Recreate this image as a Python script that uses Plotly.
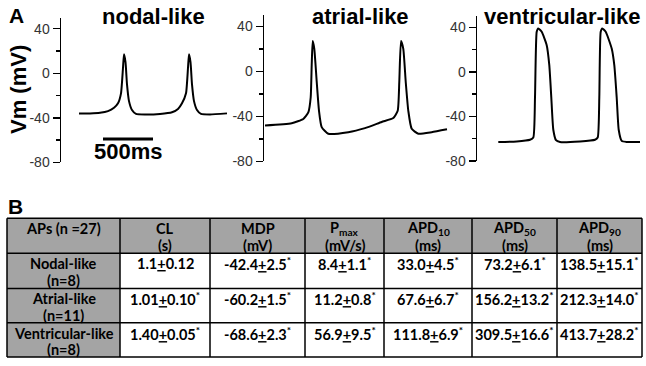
import plotly.graph_objects as go

W, H = 646, 366

# ---------------- Panel A data (time in ms, membrane potential in mV) ----------------
nodal_t = [180, 290, 390, 470, 530, 570, 600, 620, 630, 645, 660, 680, 710, 750, 840, 990,
           1110, 1170, 1210, 1250, 1270, 1280, 1295, 1310, 1330, 1360, 1400, 1490, 1660]
nodal_v = [-36, -36, -35.5, -34, -31, -27, -18, 5, 17, 10, -10, -25, -33, -36.5, -37, -36.5,
           -35, -32, -27, -18, 5, 17, 10, -10, -25, -33, -36.5, -37, -36]

atrial_t = [10, 277, 393, 443, 467, 477, 487, 503, 527, 550, 577, 643, 843, 1010, 1177, 1293,
            1337, 1353, 1370, 1393, 1417, 1443, 1477, 1543, 1677, 1830]
atrial_v = [-48, -46, -42.3, -36.5, -23, 5.5, 27, 20, -9, -35, -49.5, -55.4, -54, -50.4, -45,
            -41.5, -35, -9, 27, 20, -9, -35, -51, -55.4, -54, -51.5]

vent_t = [213, 397, 530, 563, 580, 597, 613, 647, 697, 723, 743, 763, 790, 830, 1030, 1180,
          1207, 1223, 1237, 1253, 1287, 1347, 1373, 1397, 1417, 1447, 1497, 1630]
vent_v = [-63, -62.5, -61, -59, -23, 36, 39, 36, 24, 6, -23, -52, -61.4, -63, -62.5, -61,
          -59, -23, 36, 39, 36, 21, 6, -23, -52, -62, -63, -63]

scalebar_t = [420, 920]        # 500 ms scale bar
scalebar_v = [-59, -59]
scalebar_label = "500ms"

panel_titles = ["nodal-like", "atrial-like", "ventricular-like"]
y_ticks = [40, 0, -40, -80]
y_ticktext = ["40", "0", "-40", "-80"]
y_minor = [20, -20, -60]

# ---------------- Panel B table data ----------------
row_labels = ["Nodal-like<br>(n=8)", "Atrial-like<br>(n=11)", "Ventricular-like<br>(n=8)"]
header_labels = ["APs (n =27)", "CL<br>(s)", "MDP<br>(mV)", "P<sub>max</sub><br>(mV/s)",
                 "APD<sub>10</sub><br>(ms)", "APD<sub>50</sub><br>(ms)", "APD<sub>90</sub><br>(ms)"]
cl_mean = ["1.1", "1.01", "1.40"];        cl_sem = ["0.12", "0.10", "0.05"];    cl_sig = [False, True, True]
mdp_mean = ["-42.4", "-60.2", "-68.6"];   mdp_sem = ["2.5", "1.5", "2.3"];      mdp_sig = [True, True, True]
pmax_mean = ["8.4", "11.2", "56.9"];      pmax_sem = ["1.1", "0.8", "9.5"];     pmax_sig = [True, True, True]
apd10_mean = ["33.0", "67.6", "111.8"];   apd10_sem = ["4.5", "6.7", "6.9"];    apd10_sig = [True, True, True]
apd50_mean = ["73.2", "156.2", "309.5"];  apd50_sem = ["6.1", "13.2", "16.6"];  apd50_sig = [True, True, True]
apd90_mean = ["138.5", "212.3", "413.7"]; apd90_sem = ["15.1", "14.0", "28.2"]; apd90_sig = [True, True, True]

# table geometry (pixels)
col_widths = [113, 90, 95, 79, 88, 85, 85]
row_heights = [36, 36, 35, 35]
TABLE_LEFT, TABLE_TOP = 7, 223


def fmt(means, sems, sigs):
    return [f"{m}<u>+</u>{s}" + ("<sup>*</sup>" if g else "") for m, s, g in zip(means, sems, sigs)]


def px_x(p):
    return p / W


def px_y(p):
    return 1 - p / H


fig = go.Figure()

line_style = dict(color="black", width=2, shape="spline", smoothing=0.5)
fig.add_trace(go.Scatter(x=nodal_t, y=nodal_v, mode="lines", line=line_style,
                         xaxis="x", yaxis="y", showlegend=False, hoverinfo="skip"))
fig.add_trace(go.Scatter(x=atrial_t, y=atrial_v, mode="lines", line=line_style,
                         xaxis="x2", yaxis="y2", showlegend=False, hoverinfo="skip"))
fig.add_trace(go.Scatter(x=vent_t, y=vent_v, mode="lines", line=line_style,
                         xaxis="x3", yaxis="y3", showlegend=False, hoverinfo="skip"))
fig.add_trace(go.Scatter(x=scalebar_t, y=scalebar_v, mode="lines",
                         line=dict(color="black", width=3),
                         xaxis="x", yaxis="y", showlegend=False, hoverinfo="skip"))

# ---------------- table built from a heatmap (cell fills) + line trace (borders) ----------------
col_edges = [0]
for w in col_widths:
    col_edges.append(col_edges[-1] + w)
row_edges = [0]
for h in row_heights:
    row_edges.append(row_edges[-1] + h)
n_cols, n_rows = len(col_widths), len(row_heights)

grey = "#a4a4a4"
z = [[1] * n_cols] + [[1] + [0] * (n_cols - 1) for _ in range(n_rows - 1)]
fig.add_trace(go.Heatmap(x=col_edges, y=row_edges, z=z, zmin=0, zmax=1,
                         colorscale=[[0, "white"], [1, grey]], showscale=False,
                         hoverinfo="skip", xaxis="x4", yaxis="y4"))

bx, by = [], []
for e in col_edges:
    bx += [e, e, None]
    by += [row_edges[0], row_edges[-1], None]
for e in row_edges:
    bx += [col_edges[0], col_edges[-1], None]
    by += [e, e, None]
fig.add_trace(go.Scatter(x=bx, y=by, mode="lines", line=dict(color="black", width=1.5),
                         hoverinfo="skip", showlegend=False, xaxis="x4", yaxis="y4"))

columns = [row_labels,
           fmt(cl_mean, cl_sem, cl_sig),
           fmt(mdp_mean, mdp_sem, mdp_sig),
           fmt(pmax_mean, pmax_sem, pmax_sig),
           fmt(apd10_mean, apd10_sem, apd10_sig),
           fmt(apd50_mean, apd50_sem, apd50_sig),
           fmt(apd90_mean, apd90_sem, apd90_sig)]

table_font = dict(family="Lato", size=14.5, color="black")
ann = []
for ci in range(n_cols):
    cells = [header_labels[ci]] + columns[ci]
    xc = (col_edges[ci] + col_edges[ci + 1]) / 2
    for ri, txt in enumerate(cells):
        for k, line in enumerate(txt.split("<br>")):
            ann.append(dict(text=f"<b>{line}</b>", x=xc, y=row_edges[ri] + 10.5 + 17 * k,
                            xref="x4", yref="y4", xanchor="center", yanchor="middle",
                            showarrow=False, font=table_font))

yax_common = dict(range=[-80, 50], tickvals=y_ticks, ticktext=y_ticktext, ticks="outside",
                  ticklen=7, tickwidth=1.5, tickcolor="black", showline=True, linecolor="black",
                  linewidth=1.5, showgrid=False, zeroline=False,
                  tickfont=dict(family="Liberation Sans, Arial", size=14, color="#333"),
                  minor=dict(tickvals=y_minor, ticks="outside", ticklen=4,
                             tickwidth=1.5, tickcolor="black", showgrid=False))
xax_common = dict(visible=False, showgrid=False, zeroline=False)

fig.update_layout(
    width=W, height=H, margin=dict(l=0, r=0, t=0, b=0),
    paper_bgcolor="white", plot_bgcolor="white",
    xaxis=dict(domain=[px_x(61), px_x(232)], range=[0, 1710], anchor="y", **xax_common),
    xaxis2=dict(domain=[px_x(264), px_x(449)], range=[0, 1850], anchor="y2", **xax_common),
    xaxis3=dict(domain=[px_x(477), px_x(646)], range=[0, 1690], anchor="y3", **xax_common),
    yaxis=dict(domain=[px_y(166), px_y(18)], anchor="x", **yax_common),
    yaxis2=dict(domain=[px_y(165), px_y(15.5)], anchor="x2", **yax_common),
    yaxis3=dict(domain=[px_y(164.5), px_y(16.6)], anchor="x3", **yax_common),
    # table axes: 1 unit = 1 pixel, with a 2 px margin so the border lines are not clipped
    xaxis4=dict(domain=[px_x(TABLE_LEFT - 2), px_x(TABLE_LEFT + col_edges[-1] + 2)],
                range=[-2, col_edges[-1] + 2], anchor="y4", **xax_common),
    yaxis4=dict(domain=[px_y(H), px_y(TABLE_TOP - 2)],
                range=[H - TABLE_TOP, -2], anchor="x4", **xax_common),
)

bold = dict(family="Liberation Sans, Arial", color="black")
for txt, cx in zip(panel_titles, [153.5, 360.5, 562.5]):
    ann.append(dict(text=f"<b>{txt}</b>", x=px_x(cx), y=px_y(17), xref="paper", yref="paper",
                    xanchor="center", yanchor="middle", showarrow=False, font=dict(size=22, **bold)))
ann.append(dict(text="<b>A</b>", x=px_x(16), y=px_y(16), xref="paper", yref="paper",
                xanchor="center", yanchor="middle", showarrow=False, font=dict(size=21, **bold)))
ann.append(dict(text="<b>B</b>", x=px_x(15), y=px_y(211), xref="paper", yref="paper",
                xanchor="center", yanchor="middle", showarrow=False, font=dict(size=21, **bold)))
ann.append(dict(text="<b>Vm (mV)</b>", x=px_x(19), y=px_y(92), xref="paper", yref="paper",
                xanchor="center", yanchor="middle", textangle=-90, showarrow=False,
                font=dict(size=22, **bold)))
ann.append(dict(text=f"<b>{scalebar_label}</b>", x=sum(scalebar_t) / 2, y=-70, xref="x", yref="y",
                xanchor="center", yanchor="middle", showarrow=False, font=dict(size=22, **bold)))
fig.update_layout(annotations=ann)

fig.write_html("out.html", config={"displayModeBar": False, "staticPlot": True},
               post_script="document.body.style.margin='0px';")
